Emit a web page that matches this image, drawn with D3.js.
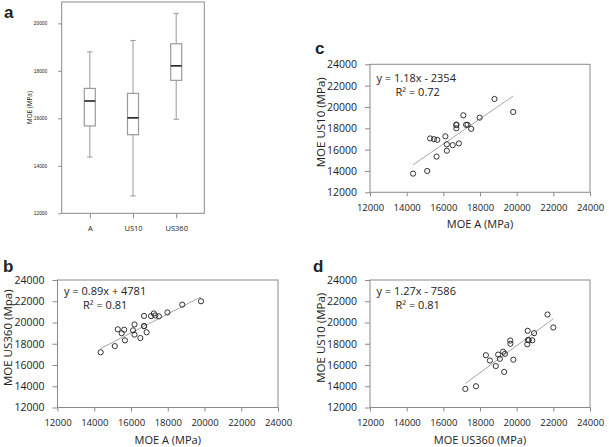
<!DOCTYPE html>
<html>
<head>
<meta charset="utf-8">
<script src="https://cdn.jsdelivr.net/npm/d3@7"></script>
<style>
  body { margin: 0; background: #fff; }
  svg { display: block; }
  text { font-family: "Open Sans", sans-serif; fill: #222; }
</style>
</head>
<body>
<div id="chart"></div>
<script>
// box plot (panel a)
const categories = ["A", "US10", "US360"];
const boxMin    = [14370, 12730, 15960];
const boxQ1     = [15680, 15310, 17600];
const boxMedian = [16730, 16020, 18210];
const boxQ3     = [17260, 17050, 19140];
const boxMax    = [18800, 19280, 20420];
const boxTicks  = [12000, 14000, 16000, 18000, 20000];

// specimen values (panels b, c, d)
const moeA     = [14350, 15120, 15280, 15490, 15630, 15670, 16110, 16190, 16190, 16510, 16710,
                  16710, 16710, 16850, 17090, 17240, 17320, 17520, 17980, 18790, 19810];
const moeUS10  = [13750, 14000, 17050, 16980, 15350, 16920, 17250, 16500, 15900, 16420, 18350,
                  18300, 18000, 16580, 19220, 18330, 18330, 17950, 19000, 20750, 19530];
const moeUS360 = [17200, 17780, 19360, 18990, 19320, 18320, 19260, 19820, 18860, 18540, 20620,
                  19650, 19660, 19080, 20600, 20850, 20660, 20580, 20950, 21680, 22000];
const scatterTicks = [12000, 14000, 16000, 18000, 20000, 22000, 24000];

// trendlines: b, c, d
const fitSlope     = [0.89, 1.18, 1.27];
const fitIntercept = [4781, -2354, -7586];
const fitR2        = [0.81, 0.72, 0.81];

const width = 609, height = 447;
const axisColor = "#8a8a8a";

const svg = d3.select("#chart").append("svg")
    .attr("width", width)
    .attr("height", height);

// ---------- panel a ----------
let a = {left: 61.7, right: 204.3, top: 2, bottom: 213.3};
let xa = d3.scalePoint().domain(categories).range([a.left, a.right]).padding(0.65);
let ya = d3.scaleLinear().domain([12000, 20900]).range([a.bottom, a.top]);

let gA = svg.append("g");
gA.append("rect")
    .attr("x", a.left).attr("y", a.top)
    .attr("width", a.right - a.left).attr("height", a.bottom - a.top)
    .attr("fill", "none").attr("stroke", axisColor);

let yAxA = gA.append("g")
    .attr("transform", `translate(${a.left},0)`)
    .call(d3.axisLeft(ya).tickValues(boxTicks).tickSize(3.5).tickPadding(11).tickFormat(d3.format("d")));
yAxA.select(".domain").remove();
yAxA.selectAll("line").attr("stroke", axisColor);
yAxA.selectAll("text").style("font-size", "4.8px").style("font-family", "Liberation Sans, Arial").attr("fill", "#333");

let xAxA = gA.append("g")
    .attr("transform", `translate(0,${a.bottom})`)
    .call(d3.axisBottom(xa).tickSize(5).tickPadding(7.8));
xAxA.select(".domain").remove();
xAxA.selectAll("line").attr("stroke", axisColor);
xAxA.selectAll("text").style("font-size", "7.5px").attr("fill", "#333");

gA.append("text")
    .attr("transform", `translate(31.6,${(a.top + a.bottom) / 2}) rotate(-90)`)
    .style("text-anchor", "middle")
    .style("font-size", "6.4px")
    .text("MOE (MPa)");

let boxW = 11, capW = 5.5;
categories.forEach(function(c, i) {
    let cx = xa(c);
    let boxColor = "#9a9a9a";
    gA.append("line")
        .attr("x1", cx).attr("x2", cx)
        .attr("y1", ya(boxMax[i])).attr("y2", ya(boxQ3[i]))
        .attr("stroke", boxColor);
    gA.append("line")
        .attr("x1", cx).attr("x2", cx)
        .attr("y1", ya(boxQ1[i])).attr("y2", ya(boxMin[i]))
        .attr("stroke", boxColor);
    [boxMax[i], boxMin[i]].forEach(function(v) {
        gA.append("line")
            .attr("x1", cx - capW / 2).attr("x2", cx + capW / 2)
            .attr("y1", ya(v)).attr("y2", ya(v))
            .attr("stroke", boxColor);
    });
    gA.append("rect")
        .attr("x", cx - boxW / 2).attr("y", ya(boxQ3[i]))
        .attr("width", boxW).attr("height", ya(boxQ1[i]) - ya(boxQ3[i]))
        .attr("fill", "#fff").attr("stroke", boxColor).attr("stroke-width", 1.2);
    gA.append("line")
        .attr("x1", cx - boxW / 2).attr("x2", cx + boxW / 2)
        .attr("y1", ya(boxMedian[i])).attr("y2", ya(boxMedian[i]))
        .attr("stroke", "#222").attr("stroke-width", 1.6);
});

// ---------- scatter panels ----------
const panels = [
    {label: "b", xs: moeA, ys: moeUS360, xTitle: "MOE A (MPa)", yTitle: "MOE US360 (Mpa)",
     left: 57.5, right: 278, top: 280, bottom: 407.5, eq1: 15, eq2: 29, labelX: 3, labelY: 272},
    {label: "c", xs: moeA, ys: moeUS10, xTitle: "MOE A (MPa)", yTitle: "MOE US10 (MPa)",
     left: 370, right: 590, top: 64.3, bottom: 192.3, eq1: 17.5, eq2: 32, labelX: 315, labelY: 53.5},
    {label: "d", xs: moeUS360, ys: moeUS10, xTitle: "MOE US360 (MPa)", yTitle: "MOE US10 (MPa)",
     left: 370, right: 590, top: 280, bottom: 407.5, eq1: 15, eq2: 29, labelX: 313, labelY: 272}
];

panels.forEach(function(p, k) {
    let g = svg.append("g");
    let x = d3.scaleLinear().domain([12000, 24000]).range([p.left, p.right]);
    let y = d3.scaleLinear().domain([12000, 24000]).range([p.bottom, p.top]);

    g.append("rect")
        .attr("x", p.left).attr("y", p.top)
        .attr("width", p.right - p.left).attr("height", p.bottom - p.top)
        .attr("fill", "none").attr("stroke", axisColor);

    let yAx = g.append("g")
        .attr("transform", `translate(${p.left},0)`)
        .call(d3.axisLeft(y).tickValues(scatterTicks).tickSize(5).tickPadding(8).tickFormat(d3.format("d")));
    yAx.select(".domain").remove();
    yAx.selectAll("line").attr("stroke", axisColor);
    yAx.selectAll("text").style("font-size", "10.5px");

    let xAx = g.append("g")
        .attr("transform", `translate(0,${p.bottom})`)
        .call(d3.axisBottom(x).tickValues(scatterTicks).tickSize(4).tickPadding(7.6).tickFormat(d3.format("d")));
    xAx.select(".domain").remove();
    xAx.selectAll("line").attr("stroke", axisColor);
    xAx.selectAll("text").style("font-size", "9.5px");

    g.append("text")
        .attr("x", (p.left + p.right) / 2)
        .attr("y", p.bottom + 36)
        .style("text-anchor", "middle")
        .style("font-size", "11px")
        .text(p.xTitle);

    g.append("text")
        .attr("transform", `translate(${p.left - 45.3},${(p.top + p.bottom) / 2 - 6}) rotate(-90)`)
        .style("text-anchor", "middle")
        .style("font-size", "11.5px")
        .text(p.yTitle);

    // trendline across the data range
    let xmin = d3.min(p.xs), xmax = d3.max(p.xs);
    g.append("line")
        .attr("x1", x(xmin)).attr("y1", y(fitSlope[k] * xmin + fitIntercept[k]))
        .attr("x2", x(xmax)).attr("y2", y(fitSlope[k] * xmax + fitIntercept[k]))
        .attr("stroke", "#a6a6a6").attr("stroke-width", 1);

    g.selectAll("circle")
        .data(p.xs.map((v, i) => [v, p.ys[i]]))
        .enter()
        .append("circle")
        .attr("cx", d => x(d[0]))
        .attr("cy", d => y(d[1]))
        .attr("r", 2.6)
        .attr("fill", "none")
        .attr("stroke", "#333")
        .attr("stroke-width", 1);

    let b = fitIntercept[k];
    g.append("text")
        .attr("x", p.left + 6.5).attr("y", p.top + p.eq1)
        .style("font-size", "11px")
        .text(`y = ${fitSlope[k].toFixed(2)}x ${b < 0 ? "-" : "+"} ${Math.abs(b)}`);
    g.append("text")
        .attr("x", p.left + 25.5).attr("y", p.top + p.eq2)
        .style("font-size", "11px")
        .text(`R² = ${fitR2[k].toFixed(2)}`);

    svg.append("text")
        .attr("x", p.labelX).attr("y", p.labelY)
        .style("font-family", "Liberation Sans, Arial, sans-serif")
        .style("font-weight", "bold")
        .style("font-size", "17px")
        .attr("fill", "#000")
        .text(p.label);
});

svg.append("text")
    .attr("x", 4).attr("y", 18)
    .style("font-family", "Liberation Sans, Arial, sans-serif")
    .style("font-weight", "bold")
    .style("font-size", "17px")
    .attr("fill", "#000")
    .text("a");
</script>
</body>
</html>
